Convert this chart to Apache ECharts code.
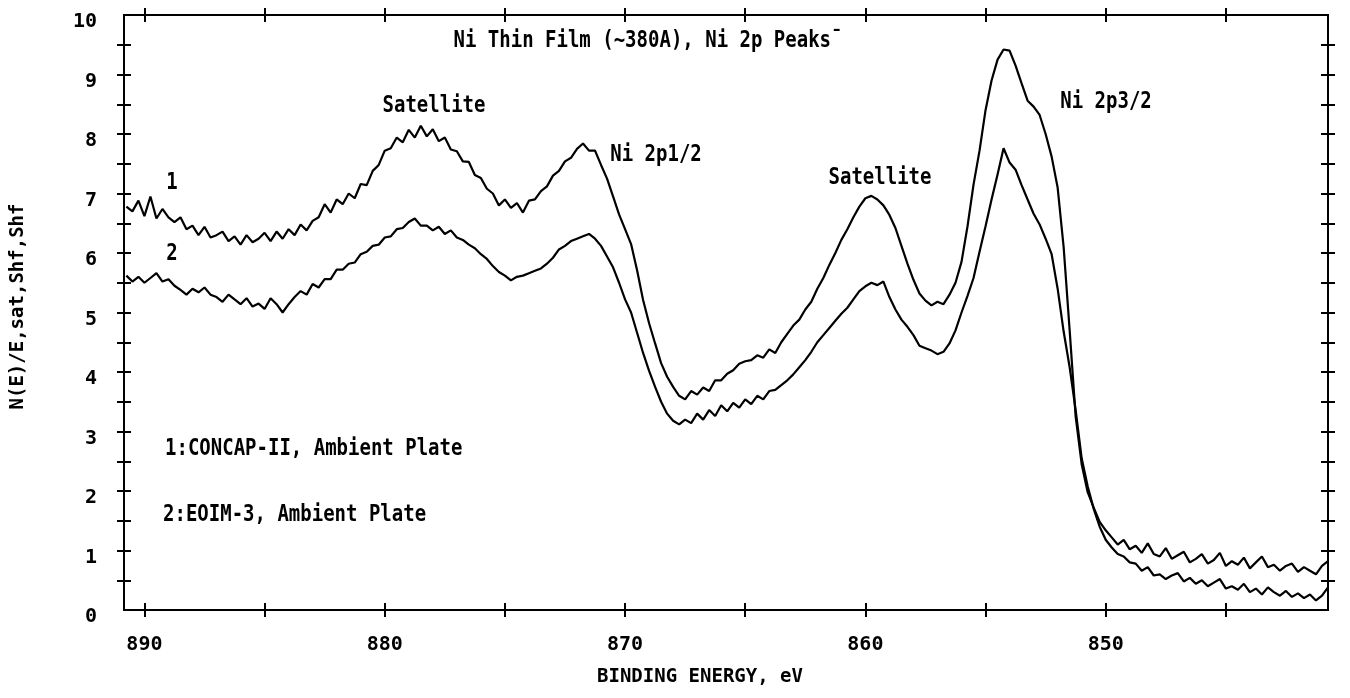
<!DOCTYPE html>
<html>
<head>
<meta charset="utf-8">
<script src="https://cdn.jsdelivr.net/npm/echarts@6/dist/echarts.min.js"></script>
<style>
  html, body { margin: 0; padding: 0; background: #fff; }
  #main { width: 1350px; height: 698px; }
</style>
</head>
<body>
<div id="main"></div>
<script>
// binding energy grid, eV
const energy = [
  890.75, 890.5, 890.25, 890, 889.75, 889.5, 889.25, 889, 888.75, 888.5, 888.25, 888,
  887.75, 887.5, 887.25, 887, 886.75, 886.5, 886.25, 886, 885.75, 885.5, 885.25, 885,
  884.75, 884.5, 884.25, 884, 883.75, 883.5, 883.25, 883, 882.75, 882.5, 882.25, 882,
  881.75, 881.5, 881.25, 881, 880.75, 880.5, 880.25, 880, 879.75, 879.5, 879.25, 879,
  878.75, 878.5, 878.25, 878, 877.75, 877.5, 877.25, 877, 876.75, 876.5, 876.25, 876,
  875.75, 875.5, 875.25, 875, 874.75, 874.5, 874.25, 874, 873.75, 873.5, 873.25, 873,
  872.75, 872.5, 872.25, 872, 871.75, 871.5, 871.25, 871, 870.75, 870.5, 870.25, 870,
  869.75, 869.5, 869.25, 869, 868.75, 868.5, 868.25, 868, 867.75, 867.5, 867.25, 867,
  866.75, 866.5, 866.25, 866, 865.75, 865.5, 865.25, 865, 864.75, 864.5, 864.25, 864,
  863.75, 863.5, 863.25, 863, 862.75, 862.5, 862.25, 862, 861.75, 861.5, 861.25, 861,
  860.75, 860.5, 860.25, 860, 859.75, 859.5, 859.25, 859, 858.75, 858.5, 858.25, 858,
  857.75, 857.5, 857.25, 857, 856.75, 856.5, 856.25, 856, 855.75, 855.5, 855.25, 855,
  854.75, 854.5, 854.25, 854, 853.75, 853.5, 853.25, 853, 852.75, 852.5, 852.25, 852,
  851.75, 851.5, 851.25, 851, 850.75, 850.5, 850.25, 850, 849.75, 849.5, 849.25, 849,
  848.75, 848.5, 848.25, 848, 847.75, 847.5, 847.25, 847, 846.75, 846.5, 846.25, 846,
  845.75, 845.5, 845.25, 845, 844.75, 844.5, 844.25, 844, 843.75, 843.5, 843.25, 843,
  842.75, 842.5, 842.25, 842, 841.75, 841.5, 841.25, 841, 840.75
];

// 1: CONCAP-II, Ambient Plate
const curve1 = [
  6.78, 6.70, 6.88, 6.62, 6.95, 6.58, 6.74, 6.60, 6.52, 6.60, 6.40, 6.46,
  6.30, 6.44, 6.26, 6.30, 6.36, 6.20, 6.28, 6.14, 6.30, 6.18, 6.24, 6.34,
  6.20, 6.36, 6.24, 6.40, 6.30, 6.48, 6.38, 6.54, 6.60, 6.82, 6.68, 6.90,
  6.82, 7.00, 6.92, 7.16, 7.14, 7.38, 7.48, 7.72, 7.76, 7.94, 7.86, 8.07,
  7.94, 8.14, 7.96, 8.08, 7.88, 7.94, 7.74, 7.71, 7.54, 7.53, 7.31, 7.26,
  7.08, 7.00, 6.80, 6.90, 6.76, 6.84, 6.68, 6.88, 6.90, 7.04, 7.12, 7.30,
  7.38, 7.54, 7.60, 7.75, 7.84, 7.72, 7.72, 7.48, 7.25, 6.95, 6.65, 6.40,
  6.15, 5.71, 5.21, 4.82, 4.48, 4.15, 3.92, 3.75, 3.60, 3.54, 3.68, 3.62,
  3.74, 3.68, 3.86, 3.86, 3.97, 4.03, 4.14, 4.18, 4.20, 4.28, 4.24, 4.38,
  4.32, 4.50, 4.64, 4.78, 4.88, 5.05, 5.18, 5.40, 5.58, 5.80, 6.00, 6.22,
  6.40, 6.60, 6.78, 6.92, 6.96, 6.90, 6.80, 6.64, 6.42, 6.12, 5.82, 5.55,
  5.32, 5.20, 5.12, 5.18, 5.14, 5.30, 5.50, 5.85, 6.45, 7.15, 7.72, 8.40,
  8.90, 9.25, 9.42, 9.40, 9.15, 8.85, 8.56, 8.46, 8.32, 8.00, 7.62, 7.10,
  6.10, 4.70, 3.25, 2.45, 1.98, 1.72, 1.48, 1.34, 1.22, 1.10, 1.18, 1.02,
  1.08, 0.96, 1.12, 0.94, 0.90, 1.04, 0.86, 0.92, 0.98, 0.80, 0.86, 0.94,
  0.78, 0.84, 0.96, 0.74, 0.82, 0.76, 0.88, 0.70, 0.80, 0.90, 0.72, 0.76,
  0.66, 0.74, 0.78, 0.64, 0.72, 0.66, 0.60, 0.74, 0.82
];

// 2: EOIM-3, Ambient Plate
const curve2 = [
  5.62, 5.52, 5.60, 5.50, 5.58, 5.66, 5.52, 5.56, 5.45, 5.38, 5.30, 5.40,
  5.34, 5.42, 5.30, 5.26, 5.18, 5.30, 5.22, 5.14, 5.24, 5.10, 5.15, 5.06,
  5.24, 5.14, 5.00, 5.14, 5.26, 5.36, 5.30, 5.48, 5.42, 5.56, 5.56, 5.72,
  5.72, 5.82, 5.84, 5.98, 6.02, 6.12, 6.14, 6.26, 6.28, 6.40, 6.42, 6.52,
  6.58, 6.46, 6.46, 6.38, 6.44, 6.32, 6.38, 6.26, 6.22, 6.14, 6.08, 5.98,
  5.90, 5.78, 5.68, 5.62, 5.54, 5.60, 5.62, 5.66, 5.70, 5.74, 5.82, 5.92,
  6.06, 6.12, 6.20, 6.24, 6.28, 6.32, 6.24, 6.12, 5.94, 5.76, 5.50, 5.22,
  5.00, 4.66, 4.32, 4.02, 3.75, 3.50, 3.30, 3.18, 3.12, 3.20, 3.14, 3.30,
  3.20, 3.36, 3.26, 3.44, 3.34, 3.48, 3.40, 3.54, 3.46, 3.60, 3.54, 3.68,
  3.70, 3.78, 3.86, 3.96, 4.08, 4.20, 4.34, 4.50, 4.62, 4.74, 4.86, 4.98,
  5.08, 5.22, 5.36, 5.44, 5.50, 5.46, 5.52, 5.26, 5.05, 4.88, 4.76, 4.62,
  4.44, 4.40, 4.36, 4.30, 4.34, 4.48, 4.70, 5.00, 5.28, 5.58, 6.02, 6.45,
  6.90, 7.32, 7.76, 7.52, 7.40, 7.14, 6.90, 6.66, 6.48, 6.24, 5.98, 5.40,
  4.68, 4.08, 3.36, 2.55, 2.08, 1.70, 1.40, 1.18, 1.05, 0.94, 0.90, 0.80,
  0.78, 0.66, 0.72, 0.58, 0.60, 0.52, 0.58, 0.62, 0.48, 0.54, 0.44, 0.50,
  0.40, 0.46, 0.52, 0.36, 0.40, 0.34, 0.44, 0.30, 0.36, 0.26, 0.38, 0.30,
  0.24, 0.32, 0.22, 0.28, 0.20, 0.26, 0.16, 0.24, 0.38
];

const xTicks = [845, 850, 855, 860, 865, 870, 875, 880, 885, 890];
const xLabels = [850, 860, 870, 880, 890];
const yTicks = [0.5, 1, 1.5, 2, 2.5, 3, 3.5, 4, 4.5, 5, 5.5, 6, 6.5, 7, 7.5, 8, 8.5, 9, 9.5];
const yLabels = [0, 1, 2, 3, 4, 5, 6, 7, 8, 9, 10];

const FONT = '"DejaVu Sans Mono", "Liberation Mono", monospace';
const black = '#000';

function xAxis(position, inside, labels) {
  return {
    type: 'value', position: position, min: 840.75, max: 890.85, inverse: true,
    axisLine: { show: true, onZero: false, lineStyle: { color: black, width: 2 } },
    axisTick: { show: true, inside: inside, length: 7, customValues: xTicks, lineStyle: { color: black, width: 2 } },
    axisLabel: labels ? {
      show: true, customValues: xLabels, margin: 25, color: black,
      fontFamily: FONT, fontWeight: 'bold', fontSize: 20
    } : { show: false },
    splitLine: { show: false }
  };
}

function yAxis(position, inside, labels) {
  return {
    type: 'value', position: position, min: 0, max: 10,
    axisLine: { show: true, onZero: false, lineStyle: { color: black, width: 2 } },
    axisTick: { show: true, inside: inside, length: 7, customValues: yTicks, lineStyle: { color: black, width: 2 } },
    axisLabel: labels ? {
      show: true, customValues: yLabels, margin: 27, color: black,
      fontFamily: FONT, fontWeight: 'bold', fontSize: 20,
      verticalAlign: 'top', padding: [-3, 0, 0, 0]
    } : { show: false },
    splitLine: { show: false }
  };
}

const chart = echarts.init(document.getElementById('main'), null, { renderer: 'canvas' });

const xBottom = xAxis('bottom', true, true);
xBottom.name = 'BINDING ENERGY, eV';
xBottom.nameLocation = 'middle';
xBottom.nameGap = 58;
xBottom.nameTextStyle = { color: black, fontFamily: FONT, fontWeight: 'bold', fontSize: 19, padding: [0, 52, 0, 0] };

const yLeft = yAxis('left', true, true);
yLeft.name = 'N(E)/E,sat,Shf,Shf';
yLeft.nameLocation = 'middle';
yLeft.nameGap = 96;
yLeft.nameTextStyle = { color: black, fontFamily: FONT, fontWeight: 'bold', fontSize: 19, padding: [0, 0, 0, 12] };

function txt(text, x, y, align) {
  return {
    type: 'text', x: x, y: y, scaleY: 1.2,
    style: {
      text: text, fill: black, font: 'bold 19px ' + FONT,
      textAlign: align || 'center', textVerticalAlign: 'middle'
    }
  };
}

chart.setOption({
  animation: false,
  backgroundColor: '#fff',
  grid: { left: 124, right: 22, top: 15, bottom: 88, containLabel: false },
  xAxis: [xBottom, xAxis('bottom', false, false), xAxis('top', true, false), xAxis('top', false, false)],
  yAxis: [yLeft, yAxis('left', false, false), yAxis('right', true, false), yAxis('right', false, false)],
  series: [
    {
      name: '1', type: 'line', xAxisIndex: 0, yAxisIndex: 0, showSymbol: false,
      lineStyle: { color: black, width: 2.2 },
      data: energy.map((e, i) => [e, curve1[i]])
    },
    {
      name: '2', type: 'line', xAxisIndex: 0, yAxisIndex: 0, showSymbol: false,
      lineStyle: { color: black, width: 2.2 },
      data: energy.map((e, i) => [e, curve2[i]])
    }
  ],
  graphic: [
    txt('Ni Thin Film (~380A), Ni 2p Peaks\u00af', 648, 41),
    txt('Satellite', 434, 106),
    txt('Ni 2p1/2', 656, 155),
    txt('Satellite', 880, 178),
    txt('Ni 2p3/2', 1106, 102),
    txt('1', 172, 183),
    txt('2', 172, 254),
    txt('1:CONCAP-II, Ambient Plate', 165, 449, 'left'),
    txt('2:EOIM-3, Ambient Plate', 163, 515, 'left')
  ]
});
</script>
</body>
</html>
